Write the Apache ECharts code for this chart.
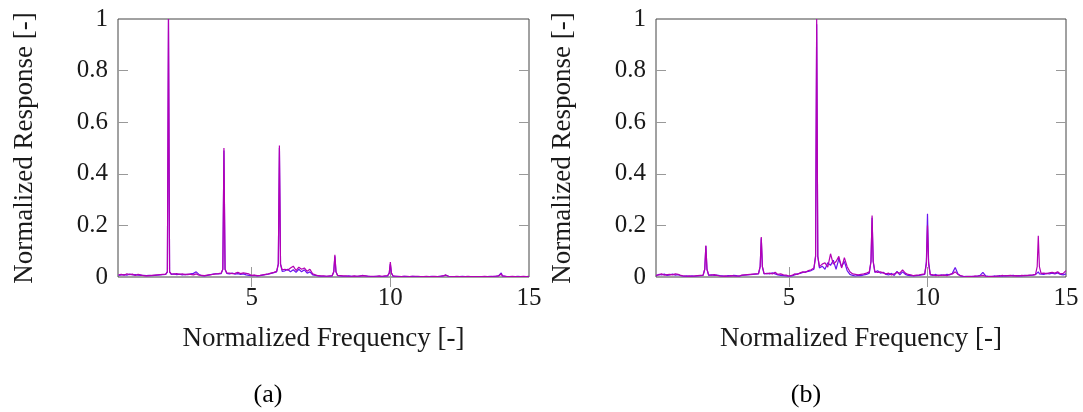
<!DOCTYPE html>
<html>
<head>
<meta charset="utf-8">
<script src="https://cdn.jsdelivr.net/npm/echarts@6/dist/echarts.min.js"></script>
<style>html,body{margin:0;padding:0;background:#fff;}#c{width:1083px;height:412px;}</style>
</head>
<body>
<div id="c"></div>
<script>
// Shared frequency grid (normalized frequency)
const freq = [
0.2,0.3,0.4,0.5,0.6,0.7,0.8,0.9,1.0,1.1,
1.2,1.3,1.4,1.5,1.6,1.7,1.8,1.9,1.96,2.0,
2.04,2.1,2.2,2.3,2.4,2.5,2.6,2.7,2.8,2.9,
3.0,3.1,3.2,3.3,3.4,3.5,3.6,3.7,3.8,3.9,
3.96,4.0,4.04,4.1,4.2,4.3,4.4,4.5,4.6,4.7,
4.8,4.9,5.0,5.1,5.2,5.3,5.4,5.5,5.6,5.7,
5.8,5.9,5.96,6.0,6.04,6.1,6.2,6.3,6.4,6.5,
6.6,6.7,6.8,6.9,7.0,7.1,7.2,7.3,7.4,7.5,
7.6,7.7,7.8,7.9,7.96,8.0,8.04,8.1,8.2,8.3,
8.4,8.5,8.6,8.7,8.8,8.9,9.0,9.1,9.2,9.3,
9.4,9.5,9.6,9.7,9.8,9.9,9.96,10.0,10.04,10.1,
10.2,10.3,10.4,10.5,10.6,10.7,10.8,10.9,11.0,11.1,
11.2,11.3,11.4,11.5,11.6,11.7,11.8,11.9,12.0,12.1,
12.2,12.3,12.4,12.5,12.6,12.7,12.8,12.9,13.0,13.1,
13.2,13.3,13.4,13.5,13.6,13.7,13.8,13.9,13.96,14.0,
14.04,14.1,14.2,14.3,14.4,14.5,14.6,14.7,14.8,14.9,
15.0
];

// Panel (a)
const respA_blue = [
0.006,0.008,0.009,0.007,0.011,0.008,0.009,0.007,0.006,0.006,
0.005,0.006,0.005,0.006,0.007,0.008,0.009,0.010,0.02,1.0,
0.02,0.010,0.012,0.009,0.011,0.008,0.010,0.009,0.012,0.014,
0.020,0.010,0.005,0.004,0.006,0.008,0.011,0.012,0.012,0.013,
0.03,0.49,0.03,0.014,0.012,0.015,0.011,0.013,0.010,0.012,
0.008,0.006,0.005,0.006,0.004,0.005,0.007,0.009,0.011,0.014,
0.017,0.020,0.05,0.50,0.05,0.022,0.024,0.030,0.020,0.028,
0.018,0.030,0.020,0.028,0.015,0.020,0.008,0.006,0.004,0.003,
0.003,0.003,0.003,0.004,0.02,0.08,0.02,0.005,0.004,0.003,
0.003,0.004,0.003,0.003,0.003,0.003,0.006,0.004,0.003,0.002,
0.002,0.003,0.003,0.002,0.003,0.004,0.015,0.05,0.015,0.003,
0.003,0.002,0.002,0.003,0.002,0.002,0.003,0.002,0.002,0.002,
0.002,0.002,0.002,0.003,0.002,0.002,0.003,0.004,0.007,0.003,
0.002,0.002,0.002,0.002,0.003,0.002,0.002,0.002,0.002,0.002,
0.002,0.002,0.002,0.002,0.003,0.002,0.003,0.004,0.008,0.016,
0.004,0.003,0.002,0.002,0.002,0.002,0.003,0.002,0.002,0.002,
0.002
];
const respA_magenta = [
0.008,0.010,0.007,0.012,0.009,0.011,0.006,0.010,0.008,0.005,
0.004,0.005,0.006,0.007,0.008,0.009,0.010,0.011,0.02,1.0,
0.02,0.012,0.011,0.013,0.010,0.012,0.009,0.011,0.010,0.008,
0.012,0.007,0.006,0.005,0.007,0.009,0.010,0.012,0.013,0.015,
0.03,0.50,0.03,0.016,0.015,0.013,0.014,0.018,0.013,0.016,
0.014,0.012,0.006,0.007,0.005,0.006,0.008,0.010,0.012,0.015,
0.018,0.022,0.05,0.51,0.05,0.028,0.030,0.026,0.035,0.042,
0.025,0.038,0.030,0.035,0.022,0.030,0.012,0.008,0.005,0.004,
0.004,0.003,0.004,0.005,0.02,0.086,0.02,0.006,0.005,0.004,
0.004,0.003,0.003,0.004,0.003,0.004,0.005,0.004,0.003,0.003,
0.003,0.003,0.004,0.003,0.004,0.005,0.015,0.058,0.015,0.004,
0.003,0.003,0.002,0.003,0.003,0.002,0.003,0.003,0.003,0.002,
0.002,0.003,0.002,0.002,0.003,0.002,0.003,0.004,0.008,0.003,
0.002,0.002,0.003,0.002,0.002,0.002,0.003,0.002,0.002,0.002,
0.002,0.002,0.003,0.002,0.002,0.003,0.003,0.004,0.006,0.012,
0.004,0.003,0.002,0.002,0.003,0.002,0.002,0.002,0.003,0.002,
0.003
];

// Panel (b)
const respB_blue = [
0.005,0.010,0.008,0.011,0.006,0.008,0.011,0.007,0.009,0.005,
0.003,0.004,0.003,0.004,0.003,0.004,0.005,0.006,0.03,0.12,
0.03,0.006,0.008,0.006,0.007,0.005,0.004,0.003,0.005,0.004,
0.006,0.005,0.003,0.006,0.007,0.008,0.009,0.010,0.011,0.012,
0.04,0.15,0.04,0.012,0.014,0.012,0.016,0.012,0.008,0.006,
0.005,0.004,0.003,0.004,0.008,0.012,0.014,0.018,0.020,0.022,
0.025,0.030,0.08,0.98,0.08,0.035,0.042,0.030,0.055,0.045,
0.065,0.030,0.070,0.040,0.060,0.025,0.010,0.006,0.004,0.006,
0.005,0.008,0.010,0.015,0.06,0.23,0.06,0.018,0.024,0.015,
0.018,0.010,0.008,0.014,0.006,0.022,0.008,0.020,0.010,0.006,
0.005,0.004,0.005,0.006,0.008,0.010,0.06,0.245,0.06,0.008,
0.006,0.010,0.005,0.008,0.006,0.010,0.008,0.015,0.037,0.012,
0.004,0.002,0.003,0.002,0.003,0.002,0.004,0.006,0.018,0.004,
0.003,0.002,0.004,0.003,0.005,0.003,0.005,0.004,0.005,0.006,
0.004,0.005,0.004,0.006,0.005,0.006,0.007,0.009,0.012,0.02,
0.012,0.012,0.010,0.014,0.012,0.015,0.012,0.016,0.010,0.008,
0.012
];
const respB_magenta = [
0.006,0.008,0.012,0.007,0.009,0.010,0.008,0.012,0.010,0.006,
0.004,0.003,0.004,0.003,0.004,0.005,0.006,0.007,0.03,0.122,
0.03,0.008,0.007,0.009,0.006,0.004,0.003,0.004,0.003,0.005,
0.004,0.003,0.004,0.007,0.008,0.009,0.010,0.011,0.012,0.013,
0.04,0.155,0.04,0.014,0.013,0.015,0.012,0.018,0.010,0.012,
0.008,0.007,0.004,0.006,0.012,0.010,0.016,0.020,0.018,0.025,
0.028,0.035,0.08,1.0,0.08,0.040,0.050,0.055,0.038,0.090,
0.050,0.060,0.080,0.035,0.075,0.040,0.020,0.012,0.010,0.008,
0.010,0.012,0.015,0.020,0.06,0.238,0.06,0.022,0.018,0.020,
0.016,0.012,0.015,0.008,0.012,0.018,0.015,0.028,0.015,0.010,
0.008,0.005,0.007,0.008,0.010,0.012,0.05,0.20,0.05,0.010,
0.008,0.005,0.007,0.006,0.008,0.005,0.010,0.012,0.020,0.010,
0.005,0.003,0.002,0.003,0.002,0.004,0.003,0.004,0.006,0.003,
0.002,0.003,0.002,0.004,0.003,0.006,0.004,0.005,0.006,0.004,
0.005,0.004,0.006,0.005,0.006,0.007,0.008,0.010,0.04,0.16,
0.04,0.014,0.015,0.013,0.016,0.018,0.015,0.020,0.012,0.014,
0.025
];

const xTicks = [5, 10, 15];
const yTicks = [0, 0.2, 0.4, 0.6, 0.8, 1];
const xTitle = 'Normalized Frequency [-]';
const yTitle = 'Normalized Response [-]';
const panelLabels = ['(a)', '(b)'];

const BLUE = '#6a14f0';
const MAGENTA = '#b400b4';
const FONT = "'Liberation Serif', 'DejaVu Serif', serif";
const TXT = '#1a1a1a';

function pairs(xs, ys) { return xs.map((x, i) => [x, ys[i]]); }

const grids = [
  { left: 118, top: 19, width: 411, height: 258 },
  { left: 656, top: 19, width: 410, height: 258 }
];
const xMins = [0.18, 0.2];

const xAxes = [], yAxes = [];
grids.forEach((g, gi) => {
  xAxes.push({
    type: 'value', gridIndex: gi, position: 'bottom', min: xMins[gi], max: 15,
    name: xTitle, nameLocation: 'middle', nameGap: 48,
    nameTextStyle: { fontFamily: FONT, fontSize: 27, color: TXT },
    axisLine: { show: false }, splitLine: { show: false },
    axisTick: { inside: true, length: 10, customValues: xTicks.slice(0, 2), lineStyle: { color: '#999' } },
    axisLabel: { customValues: xTicks, margin: 9, fontFamily: FONT, fontSize: 25, color: TXT, showMinLabel: true, showMaxLabel: true }
  });
  xAxes.push({
    type: 'value', gridIndex: gi, position: 'top', min: xMins[gi], max: 15,
    axisLine: { show: false }, splitLine: { show: false },
    axisTick: { inside: true, length: 10, customValues: xTicks.slice(0, 2), lineStyle: { color: '#999' } },
    axisLabel: { show: false }
  });
  yAxes.push({
    type: 'value', gridIndex: gi, position: 'left', min: 0, max: 1, interval: 0.2,
    name: yTitle, nameLocation: 'middle', nameGap: 80, nameRotate: 90,
    nameTextStyle: { fontFamily: FONT, fontSize: 27, color: TXT },
    axisLine: { show: false }, splitLine: { show: false },
    axisTick: { inside: true, length: 10, customValues: yTicks.slice(1, 5), lineStyle: { color: '#999' } },
    axisLabel: { customValues: yTicks, margin: 10, fontFamily: FONT, fontSize: 25, color: TXT,
      formatter: v => (v === 0 ? '0' : v === 1 ? '1' : v.toFixed(1)) }
  });
  yAxes.push({
    type: 'value', gridIndex: gi, position: 'right', min: 0, max: 1, interval: 0.2,
    axisLine: { show: false }, splitLine: { show: false },
    axisTick: { inside: true, length: 10, customValues: yTicks.slice(1, 5), lineStyle: { color: '#999' } },
    axisLabel: { show: false }
  });
});

function line(gi, ys, color, z) {
  return {
    type: 'line', xAxisIndex: gi * 2, yAxisIndex: gi * 2, data: pairs(freq, ys),
    showSymbol: false, symbol: 'none', z: z, clip: true, animation: false,
    lineStyle: { color: color, width: 1.2 }
  };
}

const chart = echarts.init(document.getElementById('c'), null, { renderer: 'canvas' });
chart.setOption({
  animation: false,
  backgroundColor: '#fff',
  grid: grids.map(g => Object.assign({ show: true, borderColor: '#444', borderWidth: 1, backgroundColor: 'transparent' }, g)),
  xAxis: xAxes,
  yAxis: yAxes,
  series: [
    line(0, respA_blue, BLUE, 2), line(0, respA_magenta, MAGENTA, 3),
    line(1, respB_blue, BLUE, 2), line(1, respB_magenta, MAGENTA, 3)
  ],
  graphic: [
    { type: 'text', x: 268, y: 395, style: { text: panelLabels[0], align: 'center', verticalAlign: 'middle', font: "26px 'Liberation Serif'", fill: '#000' } },
    { type: 'text', x: 806, y: 395, style: { text: panelLabels[1], align: 'center', verticalAlign: 'middle', font: "26px 'Liberation Serif'", fill: '#000' } }
  ]
});
</script>
</body>
</html>
